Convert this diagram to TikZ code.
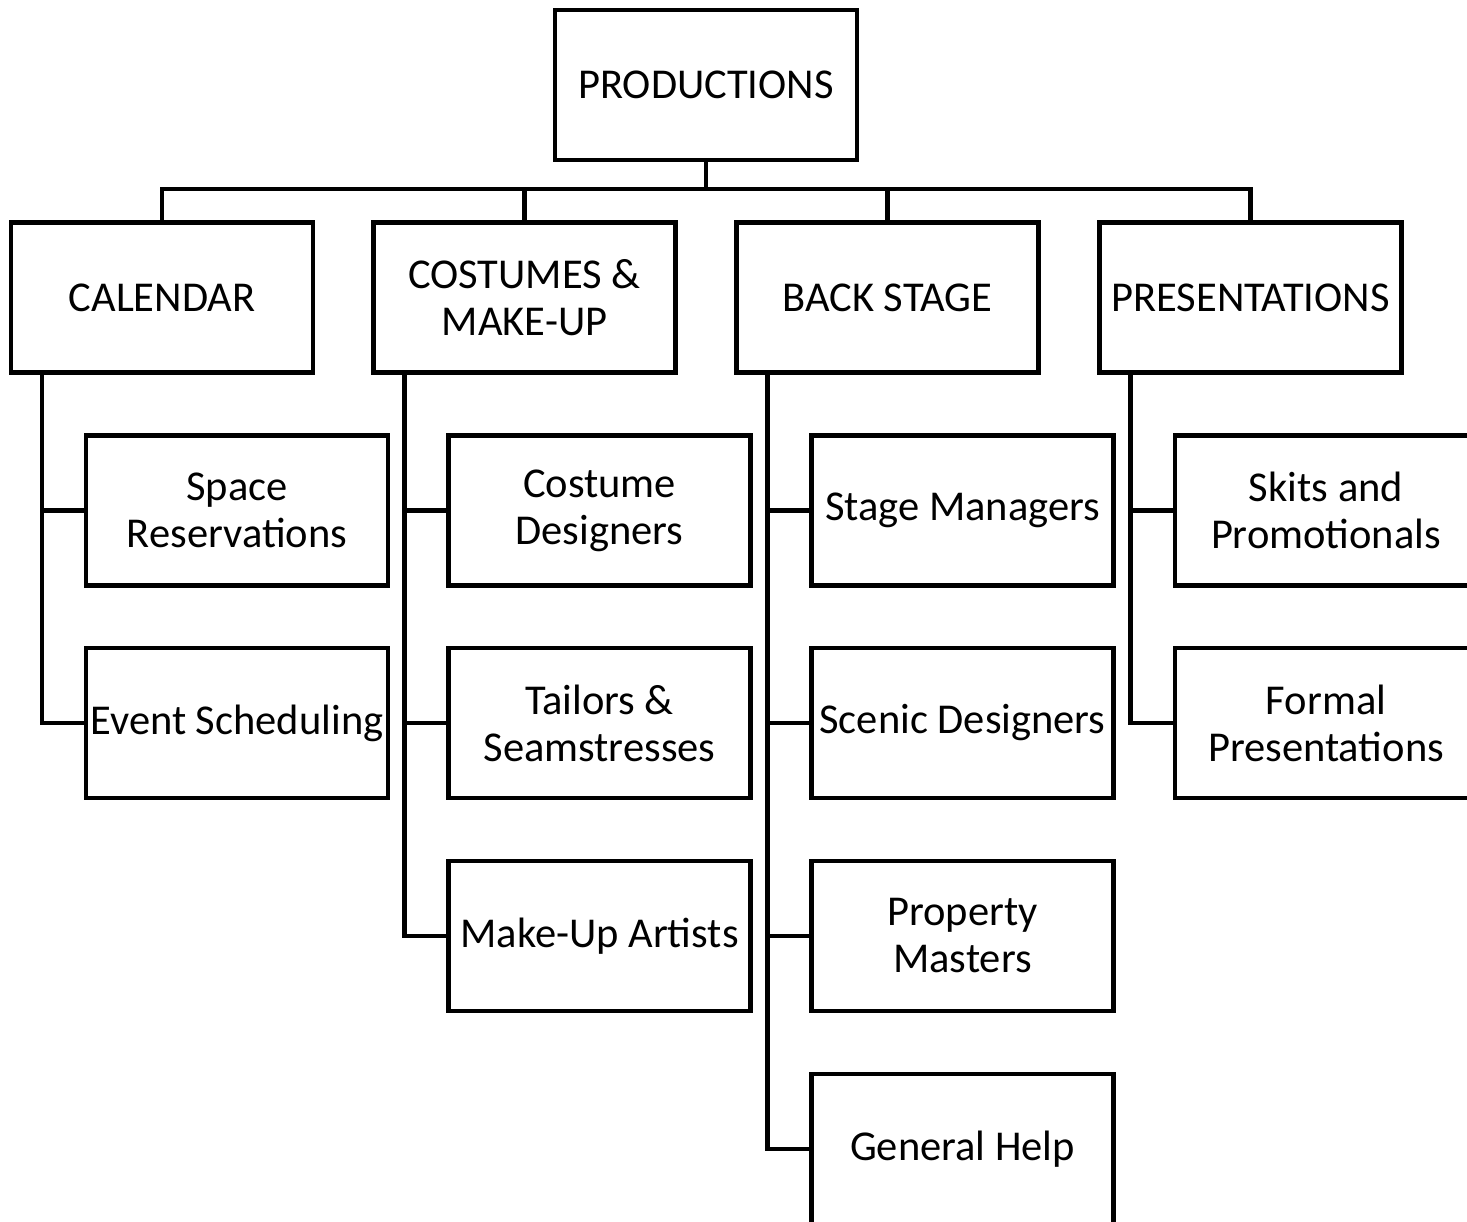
\documentclass[tikz,border=0pt]{standalone}
\usepackage{fontspec}
\setmainfont{Carlito}
\begin{document}
\begin{tikzpicture}[x=1pt,y=-1pt,
  unit/.style={draw=black, line width=4.5pt, fill=white, rectangle,
    minimum width=302pt, minimum height=150pt, inner sep=0pt, align=center,
    font=\fontsize{42.5}{47}\selectfont},
  link/.style={draw=black, line width=4.5pt}]
\useasboundingbox (0,0) rectangle (1467,1222);
\clip (0,0) rectangle (1467,1222);

% top of the chart
\node[unit] (top) at (706,85) {PRODUCTIONS};

% departments
\node[unit] (cal)  at (162,297.5)  {CALENDAR};
\node[unit] (cos)  at (524.5,297.5) {COSTUMES \&\\MAKE-UP};
\node[unit] (back) at (887.5,297.5) {BACK STAGE};
\node[unit] (pres) at (1250.5,297.5) {PRESENTATIONS};

% calendar
\node[unit] (cal1) at (237,510.5) {Space\\Reservations};
\node[unit] (cal2) at (237,723)   {Event Scheduling};
% costumes
\node[unit] (cos1) at (599.5,510.5) {Costume\\Designers};
\node[unit] (cos2) at (599.5,723)   {Tailors \&\\Seamstresses};
\node[unit] (cos3) at (599.5,936)   {Make-Up Artists};
% back stage
\node[unit] (back1) at (962.5,510.5) {Stage Managers};
\node[unit] (back2) at (962.5,723)   {Scenic Designers};
\node[unit] (back3) at (962.5,936)   {Property\\Masters};
\node[unit] (back4) at (962.5,1149)  {General Help};
% presentations
\node[unit] (pres1) at (1326,510.5) {Skits and\\Promotionals};
\node[unit] (pres2) at (1326,723)   {Formal\\Presentations};

% bus under the top box
\coordinate (bus) at (706,189);
\draw[link] (top.south) -- (bus);
\draw[link] (cal.north) -- (cal.north |- bus) -- (pres.north |- bus) -- (pres.north);
\draw[link] (cos.north) -- (cos.north |- bus);
\draw[link] (back.north) -- (back.north |- bus);

% spines down the left side of each department
\coordinate (calS)  at ([xshift=33pt]cal.south west);
\coordinate (cosS)  at ([xshift=33pt]cos.south west);
\coordinate (backS) at ([xshift=33pt]back.south west);
\coordinate (presS) at ([xshift=33pt]pres.south west);

\draw[link] (calS) -- (calS |- cal2.west) -- (cal2.west);
\draw[link] (cal1.west) -- (cal1.west -| calS);

\draw[link] (cosS) -- (cosS |- cos3.west) -- (cos3.west);
\draw[link] (cos1.west) -- (cos1.west -| cosS);
\draw[link] (cos2.west) -- (cos2.west -| cosS);

\draw[link] (backS) -- (backS |- back4.west) -- (back4.west);
\draw[link] (back1.west) -- (back1.west -| backS);
\draw[link] (back2.west) -- (back2.west -| backS);
\draw[link] (back3.west) -- (back3.west -| backS);

\draw[link] (presS) -- (presS |- pres2.west) -- (pres2.west);
\draw[link] (pres1.west) -- (pres1.west -| presS);
\end{tikzpicture}
\end{document}
